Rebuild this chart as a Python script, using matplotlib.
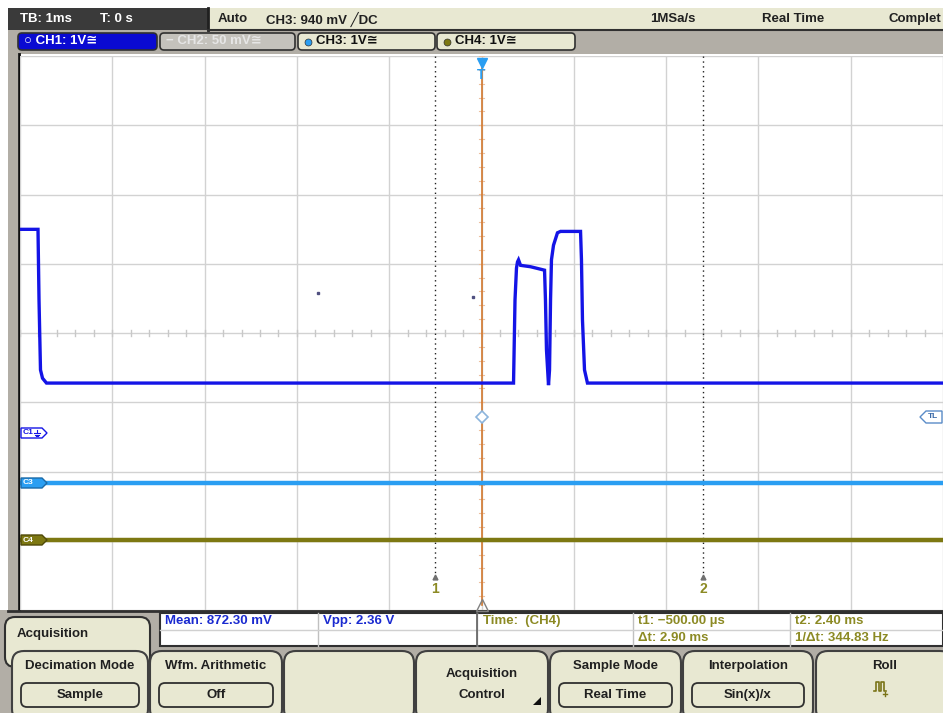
import numpy as np
import matplotlib
matplotlib.use("Agg")
import matplotlib.pyplot as plt
from matplotlib.patches import FancyBboxPatch, Rectangle, Polygon

plt.rcParams['font.family'] = ['Liberation Sans', 'DejaVu Sans']

# ---------------- data (time in ms, voltage in V) ----------------
ch1_time = [-5.0, -4.805, -4.794, -4.778, -4.756, -4.713, 0.347, 0.363, 0.379, 0.390,
            0.401, 0.423, 0.531, 0.683, 0.693, 0.704, 0.726, 0.737, 0.748, 0.758,
            0.780, 0.823, 0.856, 1.073, 1.083, 1.094, 1.116, 1.148, 5.0]
ch1_volts = [2.94, 2.94, 1.92, 0.91, 0.79, 0.72, 0.72, 1.92, 2.38, 2.47,
             2.50, 2.42, 2.40, 2.35, 1.92, 1.20, 0.69, 0.91, 1.92, 2.50,
             2.71, 2.89, 2.91, 2.91, 2.50, 1.63, 0.91, 0.72, 0.72]
ch1_dots_time = [-1.766, -0.087]
ch1_dots_volts = [2.02, 1.96]
ch3_time = [-5.0, 5.0]
ch3_volts = [0.0, 0.0]
ch4_time = [-5.0, 5.0]
ch4_volts = [0.0, 0.0]
cursor_times = [-0.5, 2.4]
cursor_labels = ["1", "2"]

# channel offsets in divisions (1 V/div)
ch1_offset = -1.443
ch3_offset = -2.165
ch4_offset = -2.987

W, H = 943, 713
fig = plt.figure(figsize=(W / 100, H / 100), dpi=100)
fig.patch.set_facecolor('white')

# UI overlay axes in pixel coords
ui = fig.add_axes([0, 0, 1, 1], zorder=0)
ui.set_xlim(0, W)
ui.set_ylim(H, 0)
ui.axis('off')

BEIGE = '#e8e8d2'
GRAY = '#b2aea6'
DARK = '#3a3a3a'
BLUE1 = '#1414e6'
BLUE3 = '#2a9ef2'
OLIVE = '#7d7812'
ORANGE = '#d2782e'
OLIVETXT = '#8c8a24'
MEASBLUE = '#1a2ad0'

bold = dict(fontweight='bold', family=['Liberation Sans', 'DejaVu Sans'])

# header
ui.add_patch(Rectangle((8, 8), 200, 22, facecolor=DARK, edgecolor='none'))
ui.add_patch(Rectangle((208, 8), W - 208, 22, facecolor=BEIGE, edgecolor='none'))
ui.plot([208, 208], [8, 30], color='#202020', lw=2)
ui.plot([208, W], [30, 30], color='#303030', lw=1.5)
ui.text(20, 19, "TB: 1ms", color='white', fontsize=9.5, va='center', **bold)
ui.text(100, 19, "T: 0 s", color='white', fontsize=9.5, va='center', **bold)
ui.text(218, 19, "Auto", color='#202020', fontsize=9.5, va='center', **bold)
ui.text(266, 19, "CH3: 940 mV \u2571DC", color='#202020', fontsize=9.5, va='center', **bold)
ui.text(650, 19, "1MSa/s", color='#202020', fontsize=9.5, va='center', **bold)
ui.text(762, 19, "Real Time", color='#202020', fontsize=9.5, va='center', **bold)
ui.text(941, 19, "Complet", color='#202020', fontsize=9.5, va='center', ha='right', **bold)

# channel button row
ui.add_patch(Rectangle((8, 30), W - 8, 24, facecolor=GRAY, edgecolor='none'))
btns = [(18, 157, '#0a0ad2', 'white', "\u25cb CH1: 1V\u2245", None),
        (160, 295, '#c4c2bc', '#e6e6e6', "\u2212 CH2: 50 mV\u2245", None),
        (298, 435, BEIGE, '#101010', "CH3: 1V\u2245", BLUE3),
        (437, 575, BEIGE, '#101010', "CH4: 1V\u2245", OLIVE)]
for x0, x1, fc, tc, label, dot in btns:
    ui.add_patch(FancyBboxPatch((x0, 33), x1 - x0, 17, boxstyle="round,pad=0,rounding_size=4",
                                facecolor=fc, edgecolor='#303030', lw=1.2))
    if dot:
        ui.plot([x0 + 10], [41.5], 'o', ms=5, color=dot, mec='#303030', mew=0.5)
        ui.text(x0 + 18, 41.5, label, color=tc, fontsize=9.5, va='center', **bold)
    else:
        ui.text(x0 + 6, 41.5, label, color=tc, fontsize=9.5, va='center', **bold)

# left gray strip
ui.add_patch(Rectangle((8, 54), 10, 556, facecolor=GRAY, edgecolor='none'))
ui.plot([19, 19], [54, 610], color='#101010', lw=2)

# bottom panel
ui.add_patch(Rectangle((0, 610), W, H - 610, facecolor=GRAY, edgecolor='none'))
ui.plot([8, W], [611, 611], color='#303030', lw=2)
ui.add_patch(FancyBboxPatch((5, 617), 145, 50, boxstyle="round,pad=0,rounding_size=10",
                            facecolor=BEIGE, edgecolor='#303030', lw=1.5))
ui.text(17, 634, "Acquisition", color='#202020', fontsize=9.5, va='center', **bold)
ui.add_patch(Rectangle((160, 613), W - 160, 33, facecolor='white', edgecolor='#303030', lw=1.5))
for xc in [318, 477, 633, 790]:
    ui.plot([xc, xc], [613, 646], color='#c0c0c0', lw=1)
ui.plot([160, W], [629.5, 629.5], color='#d0d0d0', lw=1)
ui.plot([477, 477], [613, 646], color='#606060', lw=1.2)
meas = [(165, 621, "Mean: 872.30 mV", MEASBLUE), (323, 621, "Vpp: 2.36 V", MEASBLUE),
        (483, 621, "Time:  (CH4)", OLIVETXT), (638, 621, "t1: \u2212500.00 \u00b5s", OLIVETXT),
        (638, 638, "\u0394t: 2.90 ms", OLIVETXT), (795, 621, "t2: 2.40 ms", OLIVETXT),
        (795, 638, "1/\u0394t: 344.83 Hz", OLIVETXT)]
for x, y, s, c in meas:
    ui.text(x, y, s, color=c, fontsize=9.5, va='center', **bold)

buttons = [(12, 148, "Decimation Mode", "Sample"), (150, 282, "Wfm. Arithmetic", "Off"),
           (284, 414, "", ""), (416, 548, "Acquisition", "Control*"),
           (550, 681, "Sample Mode", "Real Time"), (683, 813, "Interpolation", "Sin(x)/x"),
           (816, 952, "Roll", "icon")]
for x0, x1, top, bot in buttons:
    ui.add_patch(FancyBboxPatch((x0, 651), x1 - x0, 70, boxstyle="round,pad=0,rounding_size=12",
                                facecolor=BEIGE, edgecolor='#404040', lw=1.5))
    cx = (x0 + x1) / 2
    if bot == "Control*":
        ui.text(cx, 674, top, color='#202020', fontsize=9.5, ha='center', va='center', **bold)
        ui.text(cx, 695, "Control", color='#202020', fontsize=9.5, ha='center', va='center', **bold)
        ui.add_patch(Polygon([[533, 705], [541, 705], [541, 697]], closed=True, facecolor='#101010'))
    elif bot == "icon":
        ui.text(cx + 1, 666, top, color='#202020', fontsize=9.5, ha='center', va='center', **bold)
        xs = [874, 876, 876, 879, 879, 881, 881, 884, 884, 886]
        ys = [691, 691, 682, 682, 691, 691, 682, 682, 691, 691]
        ui.plot(xs, ys, color='#7a7418', lw=1.2)
        ui.plot([885, 885], [692, 696], color='#7a7418', lw=1)
        ui.plot([883, 887], [694, 694], color='#7a7418', lw=1)
    elif top:
        ui.text(cx, 666, top, color='#202020', fontsize=9.5, ha='center', va='center', **bold)
        ui.add_patch(FancyBboxPatch((x0 + 9, 683), x1 - x0 - 18, 24, boxstyle="round,pad=0,rounding_size=6",
                                    facecolor=BEIGE, edgecolor='#303030', lw=1.3))
        ui.text(cx, 695, bot, color='#202020', fontsize=9.5, ha='center', va='center', **bold)

# ---------------- scope screen axes ----------------
ax = fig.add_axes([20 / W, (H - 610) / H, (W - 20) / W, 554 / H], zorder=1)
ax.set_facecolor('white')
ax.set_xlim(-5, 5)
ax.set_ylim(-4, 4)
ax.set_xticks(np.arange(-5, 6))
ax.set_yticks(np.arange(-4, 5))
ax.grid(True, color='#d2d2d2', lw=1)
ax.tick_params(left=False, bottom=False, labelleft=False, labelbottom=False)
for s in ax.spines.values():
    s.set_visible(False)

# minor ticks on center axes
for t in np.arange(-5, 5.01, 0.2):
    ax.plot([t, t], [-0.04, 0.04], color='#c8c8c8', lw=1)
for v in np.arange(-4, 4.01, 0.2):
    ax.plot([-0.025, 0.025], [v, v], color='#ecc0a0', lw=0.8)

# cursors
for ct, lab in zip(cursor_times, cursor_labels):
    ax.plot([ct, ct], [4, -3.50], color='#202020', lw=1, ls=(0, (1, 2.5)))
    ax.plot([ct], [-3.53], marker='^', ms=3.5, color='#707070')
    ax.text(ct, -3.7, lab, color=OLIVETXT, fontsize=10, ha='center', va='center', **bold)

# trigger line
ax.plot([0, 0], [3.93, -3.93], color=ORANGE, lw=1.2)
ax.plot([0], [3.9], marker='v', ms=7, color=BLUE3, clip_on=False)
ax.text(0, 3.72, "T", color=BLUE3, fontsize=10, ha='center', va='center', **bold)
ax.plot([0], [-3.93], marker='^', ms=8, mfc='none', mec='#808080', mew=1, clip_on=False)
ax.plot([0], [-1.212], marker='D', ms=6, mfc='white', mec='#8cb4dc', mew=1.2)

# traces
ax.plot(ch4_time, np.array(ch4_volts) + ch4_offset, color=OLIVE, lw=3.2, solid_capstyle='butt')
ax.plot(ch3_time, np.array(ch3_volts) + ch3_offset, color=BLUE3, lw=3.2, solid_capstyle='butt')
ax.plot(ch1_time, np.array(ch1_volts) + ch1_offset, color=BLUE1, lw=2.4, solid_joinstyle='miter')
ax.plot(ch1_dots_time, np.array(ch1_dots_volts) + ch1_offset, 's', ms=1.5, color='#505080', lw=0)

# channel ground markers
ov = fig.add_axes([0, 0, 1, 1], zorder=2)
ov.set_xlim(0, W)
ov.set_ylim(H, 0)
ov.axis('off')
def tag(y, fc, ec, txt, tc, ground=False):
    ov.add_patch(Polygon([[21, y - 5], [42, y - 5], [47, y], [42, y + 5], [21, y + 5]], closed=True,
                         facecolor=fc, edgecolor=ec, lw=1))
    ov.text(23, y, txt, color=tc, fontsize=6, va='center', **bold)
    if ground:
        gx = 37
        ov.plot([gx, gx], [y - 3.5, y], color=tc, lw=0.8)
        ov.plot([gx - 3, gx + 3], [y, y], color=tc, lw=0.8)
        ov.plot([gx - 2, gx + 2], [y + 1.6, y + 1.6], color=tc, lw=0.8)
        ov.plot([gx - 1, gx + 1], [y + 3.2, y + 3.2], color=tc, lw=0.8)
tag(433, 'white', BLUE1, "C1", BLUE1, ground=True)
tag(483, BLUE3, '#1a6aa8', "C3", 'white')
tag(540, OLIVE, '#504a08', "C4", 'white')
ov.add_patch(Polygon([[920, 417], [926, 411], [942, 411], [942, 423], [926, 423]], closed=True,
                     facecolor='white', edgecolor='#5a8cc8', lw=1))
ov.text(928, 417, "TL", color='#3a6aa8', fontsize=6, va='center', **bold)

fig.savefig("out.png", dpi=100)
